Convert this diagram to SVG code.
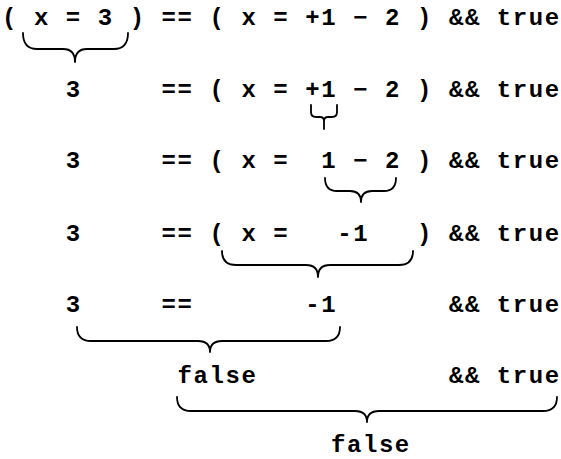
<svg xmlns="http://www.w3.org/2000/svg" width="561" height="459" viewBox="0 0 561 459">
<style>
  .t { font-family: "Liberation Mono", "DejaVu Sans Mono", monospace; font-weight: bold; font-size: 24px; letter-spacing: 1.56px; fill: #000; white-space: pre; }
  .b { fill: none; stroke: #000; stroke-width: 1.8; stroke-linecap: round; stroke-linejoin: round; }
</style>
<rect width="561" height="459" fill="#fff"/>
<g id="row1"><text class="t" x="2" y="25" xml:space="preserve">( x = 3 ) == ( x = +1 − 2 ) &amp;&amp; true</text></g>
<g id="row2"><text class="t" x="2" y="97" xml:space="preserve">    3     == ( x = +1 − 2 ) &amp;&amp; true</text></g>
<g id="row3"><text class="t" x="2" y="168" xml:space="preserve">    3     == ( x =  1 − 2 ) &amp;&amp; true</text></g>
<g id="row4"><text class="t" x="2" y="241" xml:space="preserve">    3     == ( x =   -1   ) &amp;&amp; true</text></g>
<g id="row5"><text class="t" x="2" y="312" xml:space="preserve">    3     ==       -1       &amp;&amp; true</text></g>
<g id="row6"><text class="t" x="2" y="383" xml:space="preserve">           false            &amp;&amp; true</text></g>
<g id="row7"><text class="t" x="331" y="452">false</text></g>
<g id="connectors">
  <path class="b" d="M23,33 Q23,49 37,49 L63,49 Q75,49 75,62 Q75,49 87,49 L114,49 Q128,49 128,33"/>
  <path class="b" d="M311,105 L311,112 Q311,117 316,117 L320,117 Q324,117 324,121 L324,129 L324,121 Q324,117 328,117 L332,117 Q337,117 337,112 L337,105"/>
  <path class="b" d="M325,178 Q325,191 337,191 L350,191 Q361,191 361,202 Q361,191 372,191 L384,191 Q396,191 396,178"/>
  <path class="b" d="M222,251 Q222,265 236,265 L306,265 Q318,265 318,277 Q318,265 330,265 L399,265 Q413,265 413,251"/>
  <path class="b" d="M77,327 Q77,341 91,341 L198,341 Q210,341 210,352 Q210,341 222,341 L326,341 Q340,341 340,327"/>
  <path class="b" d="M177,397 Q177,411 191,411 L355,411 Q367,411 367,422 Q367,411 379,411 L543,411 Q557,411 557,397"/>
</g>
</svg>
